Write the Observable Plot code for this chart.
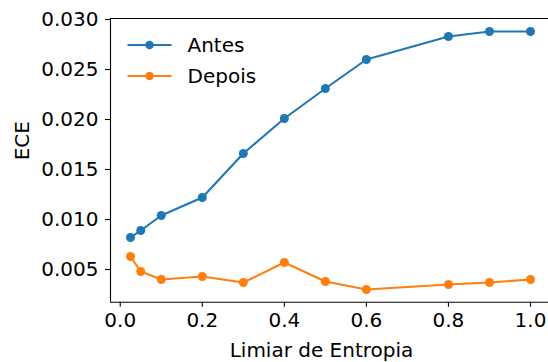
<!DOCTYPE html>
<html>
<head>
<meta charset="utf-8">
<script src="https://cdn.jsdelivr.net/npm/d3@7"></script>
<script src="https://cdn.jsdelivr.net/npm/@observablehq/plot@0.6"></script>
<style>
  html, body { margin: 0; padding: 0; background: #fff; }
</style>
</head>
<body>
<div id="chart"></div>
<script>
const thresholds = [0.025, 0.05, 0.1, 0.2, 0.3, 0.4, 0.5, 0.6, 0.8, 0.9, 1.0];
const antes  = [0.0081, 0.0088, 0.0103, 0.0121, 0.0165, 0.0200, 0.0230, 0.0259, 0.0282, 0.0287, 0.0287];
const depois = [0.0062, 0.0047, 0.0039, 0.0042, 0.0036, 0.0056, 0.0037, 0.0029, 0.0034, 0.0036, 0.0039];
const seriesNames = ["Antes", "Depois"];
const seriesColors = ["#1f77b4", "#ff7f0e"];
const xTicks = [0, 0.2, 0.4, 0.6, 0.8, 1.0];
const yTicks = [0.005, 0.010, 0.015, 0.020, 0.025, 0.030];
const xLabel = "Limiar de Entropia";
const yLabel = "ECE";

const data = [];
thresholds.forEach((t, i) => {
  data.push({x: t, y: antes[i], s: seriesNames[0]});
  data.push({x: t, y: depois[i], s: seriesNames[1]});
});

const xDomain = [-0.02375, 1.04875];
const yDomain = [0.00163, 0.0300];

function legend(index, scales, values, dimensions) {
  const g = d3.create("svg:g").attr("text-anchor", "start");
  seriesNames.forEach((name, i) => {
    const cy = 45 + i * 31;
    g.append("line").attr("x1", 127.5).attr("x2", 171.5).attr("y1", cy).attr("y2", cy)
      .attr("stroke", seriesColors[i]).attr("stroke-width", 2.1);
    g.append("circle").attr("cx", 149.5).attr("cy", cy).attr("r", 4.3).attr("fill", seriesColors[i]);
    g.append("text").attr("x", 187.5).attr("y", cy + 7.3).attr("fill", "black")
      .attr("text-anchor", "start").attr("font-size", 20).text(name);
  });
  return g.node();
}

const chart = Plot.plot({
  width: 548,
  height: 362,
  marginLeft: 110,
  marginRight: 0,
  marginTop: 18,
  marginBottom: 60.3,
  style: {fontFamily: "DejaVu Sans", fontSize: "20px", background: "#fff", color: "black"},
  x: {domain: xDomain, range: [110, 550]},
  y: {domain: yDomain},
  color: {domain: seriesNames, range: seriesColors},
  marks: [
    Plot.axisX({ticks: xTicks, tickFormat: d3.format(".1f"), tickSize: 5, tickPadding: 5.5, label: null, strokeWidth: 1.1}),
    Plot.axisY({ticks: yTicks, tickFormat: d3.format(".3f"), tickSize: 5, tickPadding: 7, label: null, dy: 1, strokeWidth: 1.1}),
    Plot.ruleY([yDomain[0], yDomain[1]], {stroke: "black", strokeWidth: 1.1}),
    Plot.ruleX([xDomain[0]], {stroke: "black", strokeWidth: 1.1}),
    Plot.line(data, {x: "x", y: "y", stroke: "s", strokeWidth: 2.1}),
    Plot.dot(data, {x: "x", y: "y", fill: "s", r: 4.5}),
    Plot.text([xLabel], {text: d => d, frameAnchor: "bottom", dx: -8, dy: 54.5, fontSize: 20, fill: "black"}),
    Plot.text([yLabel], {text: d => d, frameAnchor: "left", rotate: -90, dx: -87.5, fontSize: 20, fill: "black"}),
    legend
  ]
});
document.getElementById("chart").appendChild(chart);
</script>
</body>
</html>
